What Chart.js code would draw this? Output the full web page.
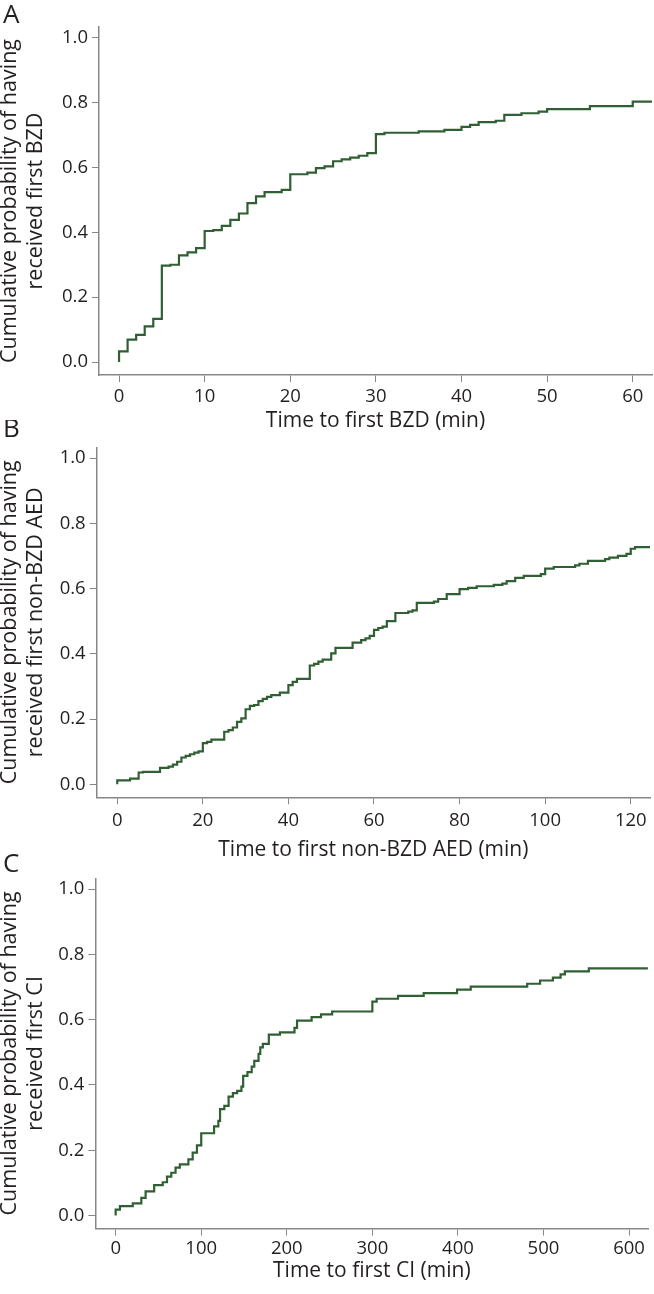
<!DOCTYPE html>
<html>
<head>
<meta charset="utf-8">
<script src="https://cdn.jsdelivr.net/npm/chart.js@4"></script>
<style>
  body { margin: 0; background: #fff; }
  #wrap { position: relative; width: 654px; height: 1294px; overflow: hidden; }
  #wrap canvas { position: absolute; left: 0; }
</style>
</head>
<body>
<div id="wrap">
  <canvas id="chartA" width="654" height="434" style="top:0px"></canvas>
  <canvas id="chartB" width="654" height="443" style="top:420px"></canvas>
  <canvas id="chartC" width="654" height="434" style="top:850px"></canvas>
</div>
<script>
// Panel A - time to first BZD
const timesA = [0, 0, 1, 2, 3, 4, 5, 6, 7, 8, 9, 10, 11, 12, 13, 14, 15, 16, 17, 19, 20, 22, 23, 24, 25, 26, 27, 28, 29, 30, 31, 35, 38, 40, 41, 42, 44, 45, 47, 49, 50, 55, 60, 62.3];
const probA = [0, 0.033, 0.069, 0.084, 0.11, 0.133, 0.297, 0.30, 0.329, 0.338, 0.351, 0.404, 0.407, 0.42, 0.438, 0.458, 0.49, 0.511, 0.524, 0.531, 0.579, 0.584, 0.598, 0.603, 0.619, 0.625, 0.63, 0.636, 0.644, 0.703, 0.707, 0.711, 0.716, 0.725, 0.731, 0.74, 0.744, 0.762, 0.767, 0.772, 0.78, 0.789, 0.803, 0.803];
const xTicksA = [0, 10, 20, 30, 40, 50, 60];

// Panel B - time to first non-BZD AED
const timesB = [0, 0, 3, 5, 6, 10, 12, 13, 14, 15, 16, 17, 18, 19, 20, 21, 22, 25, 26, 27, 28, 29, 30, 31, 32, 33, 34, 35, 36, 38, 40, 41, 42, 45, 46, 47, 48, 50, 51, 55, 57, 58, 59, 60, 61, 62, 63, 65, 68, 69, 70, 74, 75, 77, 80, 82, 84, 88, 90, 91, 93, 95, 99, 100, 102, 107, 108, 110, 114, 115, 117, 119, 120, 121, 124.5];
const probB = [0, 0.012, 0.017, 0.036, 0.038, 0.05, 0.054, 0.06, 0.069, 0.082, 0.087, 0.092, 0.097, 0.101, 0.126, 0.13, 0.137, 0.161, 0.166, 0.174, 0.191, 0.202, 0.23, 0.24, 0.243, 0.255, 0.262, 0.268, 0.273, 0.281, 0.304, 0.314, 0.323, 0.364, 0.369, 0.376, 0.382, 0.401, 0.418, 0.434, 0.442, 0.447, 0.455, 0.473, 0.479, 0.483, 0.5, 0.525, 0.529, 0.533, 0.556, 0.56, 0.568, 0.583, 0.598, 0.602, 0.607, 0.611, 0.615, 0.623, 0.633, 0.639, 0.644, 0.661, 0.666, 0.671, 0.676, 0.685, 0.69, 0.695, 0.7, 0.706, 0.722, 0.727, 0.727];
const xTicksB = [0, 20, 40, 60, 80, 100, 120];

// Panel C - time to first CI
const timesC = [0, 0, 5, 20, 30, 35, 45, 55, 60, 65, 70, 75, 85, 90, 95, 100, 115, 120, 122, 127, 132, 137, 142, 147, 149, 154, 159, 162, 167, 169, 172, 179, 192, 209, 212, 229, 240, 253, 300, 305, 330, 360, 399, 415, 481, 496, 511, 520, 525, 553, 622];
const probC = [0, 0.018, 0.029, 0.037, 0.054, 0.074, 0.093, 0.102, 0.119, 0.131, 0.147, 0.157, 0.172, 0.193, 0.215, 0.252, 0.273, 0.29, 0.326, 0.336, 0.364, 0.375, 0.382, 0.395, 0.428, 0.439, 0.456, 0.474, 0.495, 0.515, 0.526, 0.554, 0.561, 0.575, 0.597, 0.608, 0.616, 0.625, 0.655, 0.664, 0.673, 0.681, 0.692, 0.701, 0.71, 0.72, 0.729, 0.739, 0.748, 0.757, 0.757];
const xTicksC = [0, 100, 200, 300, 400, 500, 600];

const yTicks = [0, 0.2, 0.4, 0.6, 0.8, 1.0];

const FONT = '"Open Sans", "Noto Sans", sans-serif';
const TEXT = '#231f20';
const AXIS = '#878787';
const LINE = '#2f5f33';

// draws the panel letter in the top-left corner
const panelLetter = {
    id: 'panelLetter',
    afterDraw(chart, args, opts) {
        const ctx = chart.ctx;
        ctx.save();
        ctx.font = '26px ' + FONT;
        ctx.fillStyle = TEXT;
        ctx.textBaseline = 'alphabetic';
        ctx.fillText(opts.text, 3, opts.baseline);
        ctx.restore();
    }
};

function makeChart(id, cfg) {
    const points = cfg.times.map((t, i) => ({ x: t, y: cfg.probs[i] }));
    return new Chart(document.getElementById(id), {
        type: 'line',
        data: {
            datasets: [{
                data: points,
                borderColor: LINE,
                borderWidth: 2.2,
                stepped: true,
                pointRadius: 0,
                fill: false
            }]
        },
        plugins: [panelLetter],
        options: {
            responsive: false,
            animation: false,
            devicePixelRatio: 1,
            layout: {
                padding: { top: cfg.padTop, right: cfg.padRight, left: 0, bottom: 0 }
            },
            plugins: {
                legend: { display: false },
                tooltip: { enabled: false },
                panelLetter: { text: cfg.letter, baseline: cfg.letterBase }
            },
            scales: {
                x: {
                    type: 'linear',
                    min: cfg.xMin,
                    max: cfg.xMax,
                    afterBuildTicks: s => { s.ticks = cfg.xTicks.map(v => ({ value: v })); },
                    afterFit: s => { s.height = cfg.xHeight; },
                    grid: { drawOnChartArea: false, drawTicks: true, tickLength: 7, color: AXIS },
                    border: { display: true, color: AXIS, width: 1.5 },
                    ticks: {
                        padding: cfg.xTickPad,
                        color: TEXT,
                        maxRotation: 0,
                        autoSkip: false,
                        font: { family: FONT, size: 18.5 }
                    },
                    title: {
                        display: true,
                        text: cfg.xTitle,
                        color: TEXT,
                        padding: 0,
                        font: { family: FONT, size: 21, lineHeight: 1.2 }
                    }
                },
                y: {
                    min: -0.04,
                    max: 1.033,
                    afterBuildTicks: s => { s.ticks = yTicks.map(v => ({ value: v })); },
                    afterFit: s => { s.width = cfg.yWidth; },
                    grid: { drawOnChartArea: false, drawTicks: true, tickLength: 7, color: AXIS },
                    border: { display: true, color: AXIS, width: 1.5 },
                    ticks: {
                        padding: 4,
                        color: TEXT,
                        callback: v => v.toFixed(1),
                        font: { family: FONT, size: 18.5 }
                    },
                    title: {
                        display: true,
                        text: cfg.yTitle,
                        color: TEXT,
                        padding: { top: -3, bottom: 0 },
                        font: { family: FONT, size: 21.5, lineHeight: 1.22 }
                    }
                }
            }
        }
    });
}

document.fonts.load('21px "Open Sans"').then(() => {
    makeChart('chartA', {
        times: timesA, probs: probA, xTicks: xTicksA,
        xMin: -2.34, xMax: 62.25,
        padTop: 27, padRight: 2, yWidth: 99, xHeight: 59, xTickPad: 4,
        xTitle: 'Time to first BZD (min)',
        yTitle: ['Cumulative probability of having', 'received first BZD'],
        letter: 'A', letterBase: 23
    });
    makeChart('chartB', {
        times: timesB, probs: probB, xTicks: xTicksB,
        xMin: -4.8, xMax: 124.5,
        padTop: 27.3, padRight: 4, yWidth: 96.7, xHeight: 65.7, xTickPad: 5,
        xTitle: 'Time to first non-BZD AED (min)',
        yTitle: ['Cumulative probability of having', 'received first non-BZD AED'],
        letter: 'B', letterBase: 17
    });
    makeChart('chartC', {
        times: timesC, probs: probC, xTicks: xTicksC,
        xMin: -23.8, xMax: 622.5,
        padTop: 28.3, padRight: 5.7, yWidth: 95.3, xHeight: 55.4, xTickPad: 2,
        xTitle: 'Time to first CI (min)',
        yTitle: ['Cumulative probability of having', 'received first CI'],
        letter: 'C', letterBase: 22
    });
});
</script>
</body>
</html>
